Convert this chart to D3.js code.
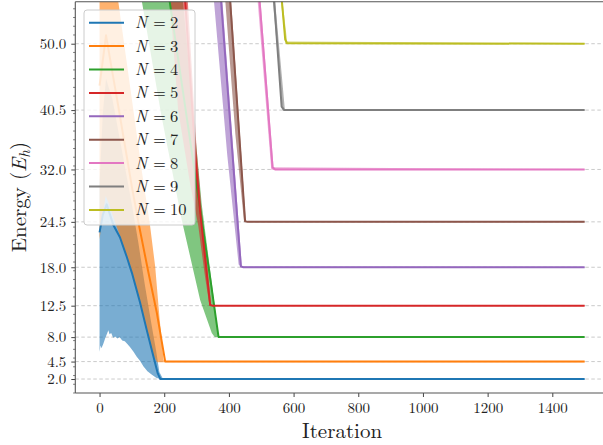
<!DOCTYPE html>
<html><head><meta charset="utf-8">
<script src="https://cdn.jsdelivr.net/npm/d3@7"></script>
<style>
html,body{margin:0;padding:0;background:#fff;}
svg{display:block;}
text{font-family:"Latin Modern Roman","Liberation Serif",serif;fill:#222;}
</style></head>
<body>
<svg id="chart" width="603" height="445"></svg>
<script>
// ---------- data ----------
const nValues = [2, 3, 4, 5, 6, 7, 8, 9, 10];
const colors = ["#1f77b4","#ff7f0e","#2ca02c","#d62728","#9467bd","#8c564b","#e377c2","#7f7f7f","#bcbd22"];
const yTickValues = [2.0, 4.5, 8.0, 12.5, 18.0, 24.5, 32.0, 40.5, 50.0];
const xTickValues = [0, 200, 400, 600, 800, 1000, 1200, 1400];

// [iteration, energy] pairs: mean line, lower and upper band edges
const mean2 = [[0,23.0],[10,25.5],[22,27.0],[43,24.0],[63,22.3],[84,19.5],[100,17.2],[125,13.0],[146,9.0],[165,5.5],[180,2.8],[188,2.0],[1500,2.0]];
const low2  = [[0,5.9],[3,6.8],[6,6.4],[12,7.1],[18,7.9],[24,8.6],[27,9.0],[31,8.4],[36,8.6],[42,7.9],[48,8.1],[55,7.8],[62,8.0],[70,7.5],[78,7.4],[86,7.0],[94,6.6],[105,5.9],[115,5.2],[125,4.6],[136,3.8],[148,3.1],[162,2.6],[175,2.2],[187,2.0],[1500,1.95]];
const up2   = [[0,30],[10,40],[20,45],[40,42],[60,37],[80,32],[100,27],[120,21.5],[140,15.5],[160,10],[175,6],[185,3],[195,2.1],[1500,2.05]];

const mean3 = [[0,44],[20,51.2],[40,45.8],[60,40.5],[80,35],[100,29.5],[122,24],[150,17.5],[177,11.5],[203,4.5],[1500,4.5]];
const low3  = [[0,22],[10,25.5],[19,28.2],[30,27],[40,25.5],[63,22.5],[84,19.5],[100,17],[125,13],[146,9],[165,5.6],[178,4.4],[1500,4.4]];
const up3   = [[0,62],[58,56],[100,42],[130,32],[156,24],[172,18.1],[185,11],[198,4.7],[206,4.55],[1500,4.55]];

const mean4 = [[0,120],[217,56],[260,42.5],[316,24.8],[345,15.5],[368,8.0],[1500,8.0]];
const low4  = [[0,100],[131,56],[190,40],[254,24.8],[311,13.3],[347,8.6],[356,8.0],[1500,7.95]];
const up4   = [[0,130],[258,56],[290,40],[316,27],[345,16.5],[368,8.1],[1500,8.05]];

const mean5 = [[0,180],[265,56],[296,34],[311,26],[342,12.6],[350,12.5],[1500,12.5]];
const low5  = [[0,170],[218,56],[243,40.5],[280,30],[305,24],[325,17],[340,12.45],[1500,12.45]];
const up5   = [[0,190],[273,56],[300,35],[315,26.5],[345,12.6],[1500,12.55]];

const mean6 = [[0,300],[376,56],[437,18.1],[445,18.0],[1500,18.0]];
const low6  = [[0,280],[354,56],[395,34],[430,18.4],[440,17.95],[1500,17.95]];
const up6   = [[0,310],[380,56],[440,18.1],[1500,18.05]];

const mean7 = [[0,330],[404,56],[450,24.6],[458,24.5],[1500,24.5]];
const low7  = [[0,310],[389,56],[420,37],[447,24.45],[1500,24.45]];
const up7   = [[0,340],[407,56],[452,24.6],[1500,24.55]];

const mean8 = [[0,380],[495,56],[535,32.3],[543,32.0],[1500,32.0]];
const low8  = [[0,370],[489,56],[531,31.95],[1500,31.95]];
const up8   = [[0,390],[498,56],[538,32.3],[1500,32.05]];

const mean9 = [[0,410],[540,56],[563,41.0],[571,40.5],[1500,40.5]];
const low9  = [[0,400],[536,56],[566,40.45],[1500,40.45]];
const up9   = [[0,420],[543,56],[573,40.6],[1500,40.55]];

const mean10 = [[0,440],[564,56],[574,50.6],[580,50.05],[1500,50.0]];
const low10  = [[0,430],[561,56],[575,49.95],[1500,49.95]];
const up10   = [[0,450],[566,56],[580,50.3],[1500,50.1]];

const series = [
  {n:2, mean:mean2, low:low2, up:up2},
  {n:3, mean:mean3, low:low3, up:up3},
  {n:4, mean:mean4, low:low4, up:up4},
  {n:5, mean:mean5, low:low5, up:up5},
  {n:6, mean:mean6, low:low6, up:up6},
  {n:7, mean:mean7, low:low7, up:up7},
  {n:8, mean:mean8, low:low8, up:up8},
  {n:9, mean:mean9, low:low9, up:up9},
  {n:10, mean:mean10, low:low10, up:up10}
];

// ---------- layout ----------
const FONT = '"Latin Modern Roman","Liberation Serif",serif';
const svg = d3.select("#chart");
const L = 75.3, R = 608.9, T = 1.8, B = 393;
const x = d3.scaleLinear().domain([-75, 1575]).range([L, R]);
const y = d3.scaleLinear().domain([0, 56]).range([B, T]);

svg.append("defs").append("clipPath").attr("id","clip")
  .append("rect").attr("x",L).attr("y",T).attr("width",R-L).attr("height",B-T);

// grid
svg.append("g").selectAll("line").data(yTickValues).join("line")
  .attr("x1",L).attr("x2",R).attr("y1",d=>y(d)).attr("y2",d=>y(d))
  .attr("stroke","#c4c4c4").attr("stroke-width",0.9).attr("stroke-dasharray","3.5,2.5");

const plot = svg.append("g").attr("clip-path","url(#clip)");
const line = d3.line().x(d=>x(d[0])).y(d=>y(d[1]));

// bands
series.forEach((s,i)=>{
  const poly = s.up.concat(s.low.slice().reverse());
  plot.append("path").attr("d", line(poly) + "Z")
    .attr("fill", colors[i]).attr("fill-opacity",0.6).attr("stroke","none");
});
// mean lines
series.forEach((s,i)=>{
  plot.append("path").attr("d", line(s.mean))
    .attr("fill","none").attr("stroke",colors[i]).attr("stroke-width",2)
    .attr("stroke-linejoin","round");
});

// axes
const xAxis = d3.axisBottom(x).tickValues(xTickValues).tickSize(4).tickPadding(5).tickFormat(d3.format("d"));
const gx = svg.append("g").attr("transform",`translate(0,${B})`).call(xAxis);
gx.attr("font-family",null);
gx.select(".domain").remove();
gx.selectAll("line").attr("stroke","#444");
gx.selectAll("text").attr("font-size",15).style("font-family",FONT).attr("fill","#222");

const yAxis = d3.axisLeft(y).tickValues(yTickValues).tickSize(4).tickPadding(5).tickFormat(d3.format(".1f"));
const gy = svg.append("g").attr("transform",`translate(${L},0)`).call(yAxis);
gy.attr("font-family",null);
gy.select(".domain").remove();
gy.selectAll("line").attr("stroke","#444");
gy.selectAll("text").attr("font-size",15).style("font-family",FONT).attr("fill","#222");

// minor y ticks
const minorVals = d3.range(0, 56.01, 1.25).filter(v => !yTickValues.some(t => Math.abs(t - v) < 0.3));
svg.append("g").selectAll("line").data(minorVals).join("line")
  .attr("x1",L-2.2).attr("x2",L).attr("y1",d=>y(d)).attr("y2",d=>y(d))
  .attr("stroke","#444").attr("stroke-width",0.7);

// spines
const sp = svg.append("g").attr("stroke","#555").attr("stroke-width",1.1);
sp.append("line").attr("x1",L).attr("x2",L).attr("y1",T).attr("y2",B);
sp.append("line").attr("x1",L).attr("x2",R).attr("y1",B).attr("y2",B);
sp.append("line").attr("x1",L).attr("x2",R).attr("y1",T).attr("y2",T);
sp.append("line").attr("x1",R).attr("x2",R).attr("y1",T).attr("y2",B);

// axis labels
svg.append("text").attr("x",(L+R)/2).attr("y",438).attr("text-anchor","middle")
  .attr("font-size",21).text("Iteration");
const yl = svg.append("text").attr("transform","translate(26,197) rotate(-90)")
  .attr("text-anchor","middle").attr("font-size",21);
yl.append("tspan").text("Energy (");
yl.append("tspan").attr("font-style","italic").text("E");
yl.append("tspan").attr("font-style","italic").attr("font-size",15).attr("dy",3.5).text("h");
yl.append("tspan").attr("dy",-3.5).text(")");

// legend
const lg = svg.append("g");
lg.append("rect").attr("x",84).attr("y",10).attr("width",111).attr("height",215)
  .attr("rx",3).attr("fill","#fff").attr("fill-opacity",0.8).attr("stroke","#cccccc").attr("stroke-width",1);
nValues.forEach((n,i)=>{
  const cy = 22.7 + i*23.4;
  lg.append("line").attr("x1",89).attr("x2",124).attr("y1",cy).attr("y2",cy)
    .attr("stroke",colors[i]).attr("stroke-width",2);
  const t = lg.append("text").attr("y",cy+5.5).attr("font-size",16.5);
  t.append("tspan").attr("x",135).attr("font-style","italic").text("N");
  t.append("tspan").attr("x",153).text("=");
  t.append("tspan").attr("x",170).text(String(n));
});
</script>
</body></html>
